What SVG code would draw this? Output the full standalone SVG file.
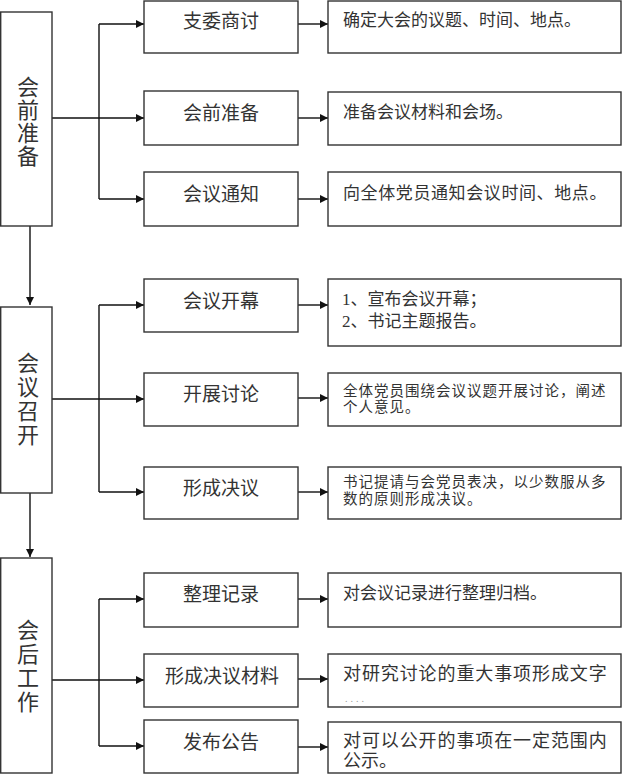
<svg xmlns="http://www.w3.org/2000/svg" width="624" height="778" viewBox="0 0 624 778">
<style>
rect{fill:#fff;stroke:#333;stroke-width:1.4}
.c{fill:none;stroke:#111;stroke-width:1.4}
text{font-family:"Liberation Serif","Noto Sans CJK SC",serif;fill:#333}
.m{font-size:19px;text-anchor:middle}
.l{font-size:22px;text-anchor:middle}
.r{font-size:17px}
.s{font-size:14.5px;letter-spacing:1px}
</style>
<defs>
<marker id="a" viewBox="0 0 10 10" refX="10" refY="5" markerWidth="10" markerHeight="8" markerUnits="userSpaceOnUse" orient="auto">
<path d="M0,0L10,5L0,10z" fill="#111"/>
</marker>
</defs>
<g id="connectors">
<path class="c" d="M30,226V305" marker-end="url(#a)"/>
<path class="c" d="M30,493V557" marker-end="url(#a)"/>
<path class="c" d="M52,118H99M99,24V199"/>
<path class="c" d="M99,24H144" marker-end="url(#a)"/>
<path class="c" d="M99,118H144" marker-end="url(#a)"/>
<path class="c" d="M99,199H144" marker-end="url(#a)"/>
<path class="c" d="M52,399H99M99,305V492"/>
<path class="c" d="M99,305H144" marker-end="url(#a)"/>
<path class="c" d="M99,399H144" marker-end="url(#a)"/>
<path class="c" d="M99,492H144" marker-end="url(#a)"/>
<path class="c" d="M52,680H99M99,599V746"/>
<path class="c" d="M99,599H144" marker-end="url(#a)"/>
<path class="c" d="M99,680H144" marker-end="url(#a)"/>
<path class="c" d="M99,746H144" marker-end="url(#a)"/>
<path class="c" d="M298,24H328" marker-end="url(#a)"/>
<path class="c" d="M298,118H328" marker-end="url(#a)"/>
<path class="c" d="M298,199H328" marker-end="url(#a)"/>
<path class="c" d="M298,305H328" marker-end="url(#a)"/>
<path class="c" d="M298,398H328" marker-end="url(#a)"/>
<path class="c" d="M298,492H328" marker-end="url(#a)"/>
<path class="c" d="M298,599H328" marker-end="url(#a)"/>
<path class="c" d="M298,679H328" marker-end="url(#a)"/>
<path class="c" d="M298,747H328" marker-end="url(#a)"/>
</g>
<g id="stage1"><rect x="0.7" y="12" width="51.3" height="214"/>
<text class="l" x="28"><tspan x="28" y="95">会</tspan><tspan x="28" y="118">前</tspan><tspan x="28" y="141">准</tspan><tspan x="28" y="164">备</tspan></text></g>
<g id="stage2"><rect x="0.7" y="307" width="51.3" height="186"/>
<text class="l" x="28"><tspan x="28" y="371">会</tspan><tspan x="28" y="395">议</tspan><tspan x="28" y="419">召</tspan><tspan x="28" y="443">开</tspan></text></g>
<g id="stage3"><rect x="0.7" y="558" width="51.3" height="215"/>
<text class="l" x="28"><tspan x="28" y="638">会</tspan><tspan x="28" y="662">后</tspan><tspan x="28" y="686">工</tspan><tspan x="28" y="710">作</tspan></text></g>

<g id="n1"><rect x="144" y="1" width="154" height="52"/><text class="m" x="221" y="28">支委商讨</text></g>
<g id="n2"><rect x="144" y="91" width="154" height="54"/><text class="m" x="221" y="120">会前准备</text></g>
<g id="n3"><rect x="144" y="172" width="154" height="54"/><text class="m" x="221" y="201">会议通知</text></g>
<g id="n4"><rect x="144" y="279" width="154" height="53"/><text class="m" x="221" y="308">会议开幕</text></g>
<g id="n5"><rect x="144" y="373" width="154" height="53"/><text class="m" x="221" y="401">开展讨论</text></g>
<g id="n6"><rect x="144" y="467" width="154" height="52"/><text class="m" x="221" y="495">形成决议</text></g>
<g id="n7"><rect x="144" y="573" width="154" height="54"/><text class="m" x="221" y="601">整理记录</text></g>
<g id="n8"><rect x="144" y="654" width="154" height="53"/><text class="m" x="222" y="683">形成决议材料</text></g>
<g id="n9"><rect x="144" y="720" width="154" height="53"/><text class="m" x="221" y="749">发布公告</text></g>

<g id="d1"><rect x="328" y="1" width="293" height="52"/><text class="r" x="343" y="26">确定大会的议题、时间、地点。</text></g>
<g id="d2"><rect x="328" y="92" width="293" height="53"/><text class="r" x="343" y="118">准备会议材料和会场。</text></g>
<g id="d3"><rect x="328" y="172" width="293" height="54"/><text class="r" x="343" y="199" style="letter-spacing:0.6px">向全体党员通知会议时间、地点。</text></g>
<g id="d4"><rect x="328" y="279" width="293" height="67"/><text class="r" x="342" y="305">1、宣布会议开幕；</text><text class="r" x="342" y="327">2、书记主题报告。</text></g>
<g id="d5"><rect x="328" y="373" width="293" height="53"/><text class="s" x="343" y="396">全体党员围绕会议议题开展讨论，阐述</text><text class="s" x="343" y="412">个人意见。</text></g>
<g id="d6"><rect x="328" y="467" width="293" height="52"/><text class="s" x="343" y="487">书记提请与会党员表决，以少数服从多</text><text class="s" x="343" y="504">数的原则形成决议。</text></g>
<g id="d7"><rect x="328" y="573" width="293" height="54"/><text class="r" x="343" y="599">对会议记录进行整理归档。</text></g>
<g id="d8"><rect x="328" y="654" width="293" height="53"/><text class="r" x="343" y="680" style="font-size:18px;letter-spacing:0.9px">对研究讨论的重大事项形成文字</text><text x="345" y="702" style="font-size:10px;fill:#999;letter-spacing:3px">....</text></g>
<g id="d9"><rect x="328" y="722" width="293" height="51"/><text class="r" x="343" y="747" style="font-size:18px;letter-spacing:0.9px">对可以公开的事项在一定范围内</text><text class="r" x="343" y="767" style="font-size:18px">公示。</text></g>
</svg>
